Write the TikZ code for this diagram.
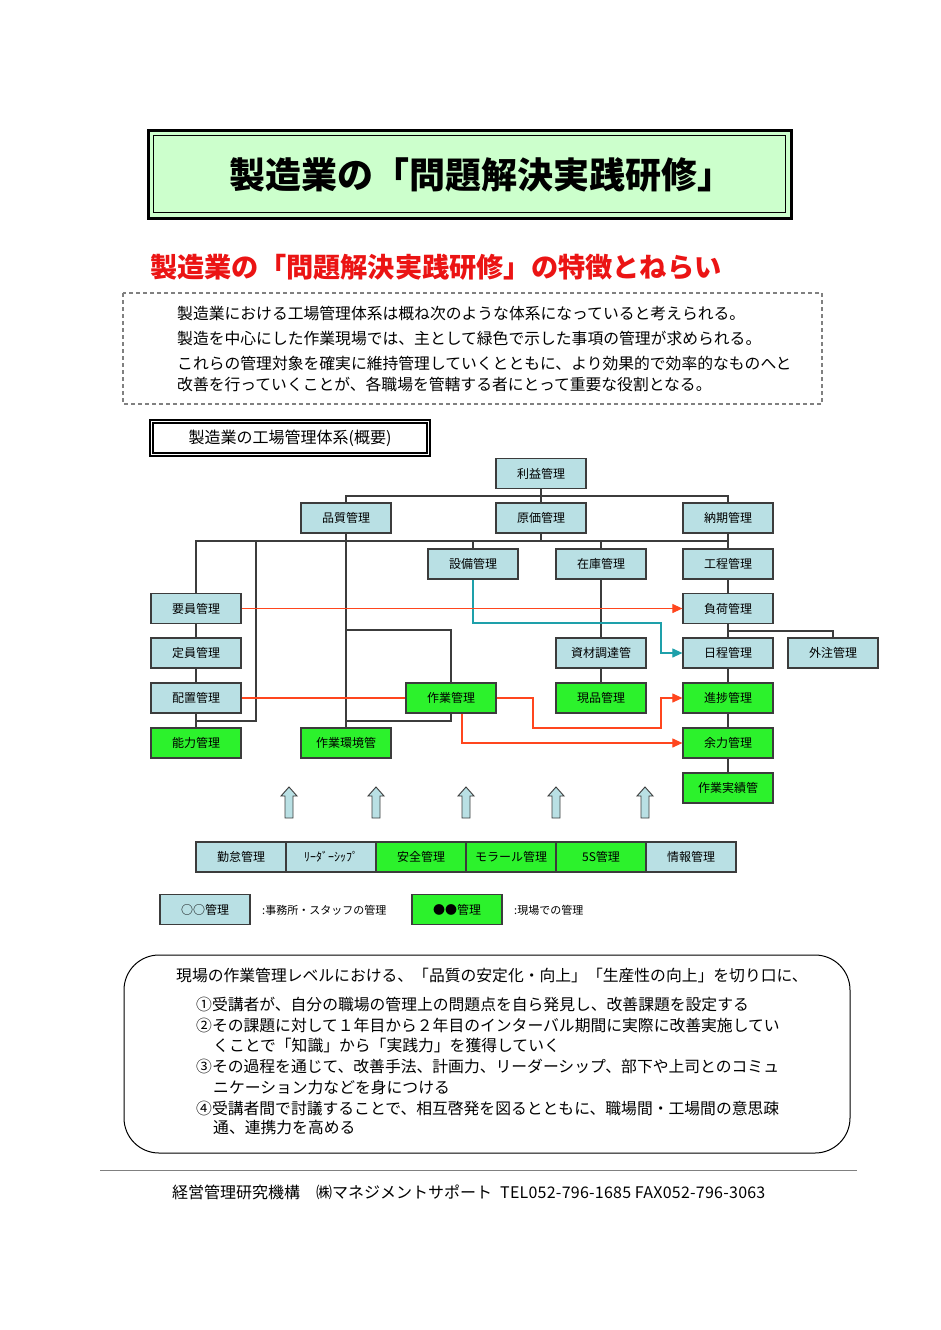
\documentclass[tikz,border=0pt]{standalone}
\usepackage{fontspec}
\setmainfont{Noto Sans CJK JP}
\usetikzlibrary{arrows.meta}
\definecolor{lblue}{RGB}{185,224,228}
\definecolor{lgreen}{RGB}{44,242,44}
\definecolor{titlegreen}{RGB}{204,255,204}
\definecolor{bordergray}{RGB}{60,60,60}
\definecolor{redline}{RGB}{255,70,30}
\definecolor{tealline}{RGB}{30,160,170}
\definecolor{titlered}{RGB}{235,20,20}
\tikzset{
 mbox/.style={draw=bordergray, line width=1.2pt, minimum width=90pt, minimum height=30pt, inner sep=0pt, font=\fontsize{12}{14}\selectfont},
 office/.style={mbox, fill=lblue},
 field/.style={mbox, fill=lgreen},
 conn/.style={draw=bordergray, line width=1.1pt},
 redconn/.style={draw=redline, line width=1.1pt},
 redarrow/.style={redconn, -{Triangle[length=10pt,width=9pt]}},
 tealarrow/.style={draw=tealline, line width=1.1pt, -{Triangle[length=10pt,width=9pt]}},
 bodytext/.style={anchor=west, inner sep=0pt, font=\fontsize{15.8}{18}\selectfont},
 legtext/.style={anchor=west, inner sep=0pt, font=\fontsize{11}{13}\selectfont},
 uparrow/.style={draw=bordergray, fill=lblue, line width=0.9pt},
}
\begin{document}
\begin{tikzpicture}[x=1pt,y=-1pt]
\fill[white] (0,0) rectangle (940,1330);
\useasboundingbox (0,0) rectangle (940,1330);

% title
\draw[line width=3pt, fill=titlegreen] (148,130) rectangle (791,218);
\draw[line width=0.8pt] (153.5,135.5) rectangle (785.5,212.5);
\node (title) at (481,175) {\fontsize{36}{40}\selectfont\bfseries 製造業の「問題解決実践研修」};

% red subtitle
\node[anchor=west, inner sep=0pt, text=titlered] (sub) at (150,267) {\fontsize{27.2}{30}\selectfont\bfseries 製造業の「問題解決実践研修」の特徴とねらい};

% dashed box
\draw[dash pattern=on 4pt off 3pt, line width=1.1pt, draw=gray] (123,293) rectangle (822,404);
\node[bodytext] (t1) at (177,313) {製造業における工場管理体系は概ね次のような体系になっていると考えられる。};
\node[bodytext] (t2) at (177,338) {製造を中心にした作業現場では、主として緑色で示した事項の管理が求められる。};
\node[bodytext] (t3) at (177,363) {これらの管理対象を確実に維持管理していくとともに、より効果的で効率的なものへと};
\node[bodytext] (t4) at (177,384) {改善を行っていくことが、各職場を管轄する者にとって重要な役割となる。};

% overview label
\node[draw, line width=1.2pt, double, double distance=1.8pt, minimum width=277pt, minimum height=33pt, inner sep=0pt, font=\fontsize{16}{18}\selectfont] (gaiyo) at (290,438) {製造業の工場管理体系(概要)};

% nodes
\node[office] (rieki) at (541,473.5) {利益管理};
\node[office] (genka) at (541,518) {原価管理};
\node[office] (hinshitsu) at (346,518) {品質管理};
\node[office] (noki) at (728,518) {納期管理};
\node[office] (setsubi) at (473,564) {設備管理};
\node[office] (zaiko) at (601,564) {在庫管理};
\node[office] (kotei) at (728,564) {工程管理};
\node[office] (youin) at (196,608.5) {要員管理};
\node[office] (fuka) at (728,608.5) {負荷管理};
\node[office] (teiin) at (196,653) {定員管理};
\node[office] (shizai) at (601,653) {資材調達管};
\node[office] (nittei) at (728,653) {日程管理};
\node[office] (gaichu) at (833,653) {外注管理};
\node[office] (haichi) at (196,698) {配置管理};
\node[field] (sagyo) at (451,698) {作業管理};
\node[field] (genpin) at (601,698) {現品管理};
\node[field] (shinchoku) at (728,698) {進捗管理};
\node[field] (noryoku) at (196,743) {能力管理};
\node[field] (kankyo) at (346,743) {作業環境管};
\node[field] (yoryoku) at (728,743) {余力管理};
\node[field] (jisseki) at (728,788) {作業実績管};

% junctions
\coordinate (j1) at (541,496);
\coordinate (j2) at (541,541);
\coordinate (b1) at (256,541);
\coordinate (b2) at (256,721);
\coordinate (k1) at (346,630);
\coordinate (k2) at (346,721);
\coordinate (f1) at (728,631);
\coordinate (t1c) at (661,623);
\coordinate (c1) at (533,728);
\coordinate (c2) at (661,728);

% gray connectors
\draw[conn] (rieki) -- (genka);
\draw[conn] (hinshitsu.north) |- (j1) -| (noki.north);
\draw[conn] (genka) -- (j2);
\draw[conn] (youin.north) |- (j2) -| (kotei.north);
\draw[conn] (noki) -- (kotei);
\draw[conn] (setsubi.north) -- (setsubi.north |- j2);
\draw[conn] (zaiko.north) -- (zaiko.north |- j2);
\draw[conn] (b1) -- (b2) -- (b2 -| youin);
\draw[conn] (youin) -- (teiin);
\draw[conn] (teiin) -- (haichi);
\draw[conn] (haichi) -- (noryoku);
\draw[conn] (hinshitsu) -- (kankyo);
\draw[conn] (k1) -| (sagyo.north);
\draw[conn] (sagyo.south) |- (k2);
\draw[conn] (zaiko) -- (shizai);
\draw[conn] (shizai) -- (genpin);
\draw[conn] (kotei) -- (fuka);
\draw[conn] (fuka) -- (nittei);
\draw[conn] (f1) -| (gaichu.north);
\draw[conn] (nittei) -- (shinchoku);
\draw[conn] (shinchoku) -- (yoryoku);
\draw[conn] (yoryoku) -- (jisseki);

% teal
\draw[tealarrow] (setsubi.south) |- (t1c) |- (nittei.west);

% red
\draw[redarrow] (youin.east) -- (fuka.west);
\draw[redconn] (haichi.east) -- (sagyo.west);
\draw[redarrow] (sagyo.east) -| (c1) -- (c2) |- (shinchoku.west);
\draw[redarrow] ([xshift=11pt]sagyo.south) |- (yoryoku.west);

% up arrows
\foreach \cx in {289,376,466,556,645}
  \draw[uparrow] (\cx-4,818) -- (\cx-4,796) -- (\cx-8,796) -- (\cx,787) -- (\cx+8,796) -- (\cx+4,796) -- (\cx+4,818) -- cycle;

% bottom row
\node[office] (kintai) at (241,857) {勤怠管理};
\node[office] (leader) at (331,857) {ﾘｰﾀﾞｰｼｯﾌﾟ};
\node[field] (anzen) at (421,857) {安全管理};
\node[field] (morale) at (511,857) {モラール管理};
\node[field] (fives) at (601,857) {5S管理};
\node[office] (joho) at (691,857) {情報管理};

% legend
\node[office] (leg1) at (205,909.5) {○○管理};
\node[legtext] (leg1t) at (262,910) {:事務所・スタッフの管理};
\node[field] (leg2) at (457,909.5) {●●管理};
\node[legtext] (leg2t) at (514,910) {:現場での管理};

% rounded box
\draw[line width=1pt, rounded corners=35pt] (124,955) rectangle (850,1153);
\node[bodytext] (a0) at (176,975) {現場の作業管理レベルにおける、「品質の安定化・向上」「生産性の向上」を切り口に、};
\node[bodytext] (a1) at (196,1004) {①受講者が、自分の職場の管理上の問題点を自ら発見し、改善課題を設定する};
\node[bodytext] (a2) at (196,1025) {②その課題に対して１年目から２年目のインターバル期間に実際に改善実施してい};
\node[bodytext] (a2b) at (213,1045) {くことで「知識」から「実践力」を獲得していく};
\node[bodytext] (a3) at (196,1066) {③その過程を通じて、改善手法、計画力、リーダーシップ、部下や上司とのコミュ};
\node[bodytext] (a3b) at (213,1087) {ニケーション力などを身につける};
\node[bodytext] (a4) at (196,1108) {④受講者間で討議することで、相互啓発を図るとともに、職場間・工場間の意思疎};
\node[bodytext] (a4b) at (213,1128) {通、連携力を高める};

% footer
\draw[line width=0.8pt, draw=gray] (100,1170) -- (857,1170);
\node[anchor=west, inner sep=0pt, font=\fontsize{16}{18}\selectfont] (foot) at (172,1192) {経営管理研究機構　㈱マネジメントサポート\hspace{8pt}\addfontfeature{LetterSpace=1.5}TEL052-796-1685 FAX052-796-3063};
\end{tikzpicture}
\end{document}
